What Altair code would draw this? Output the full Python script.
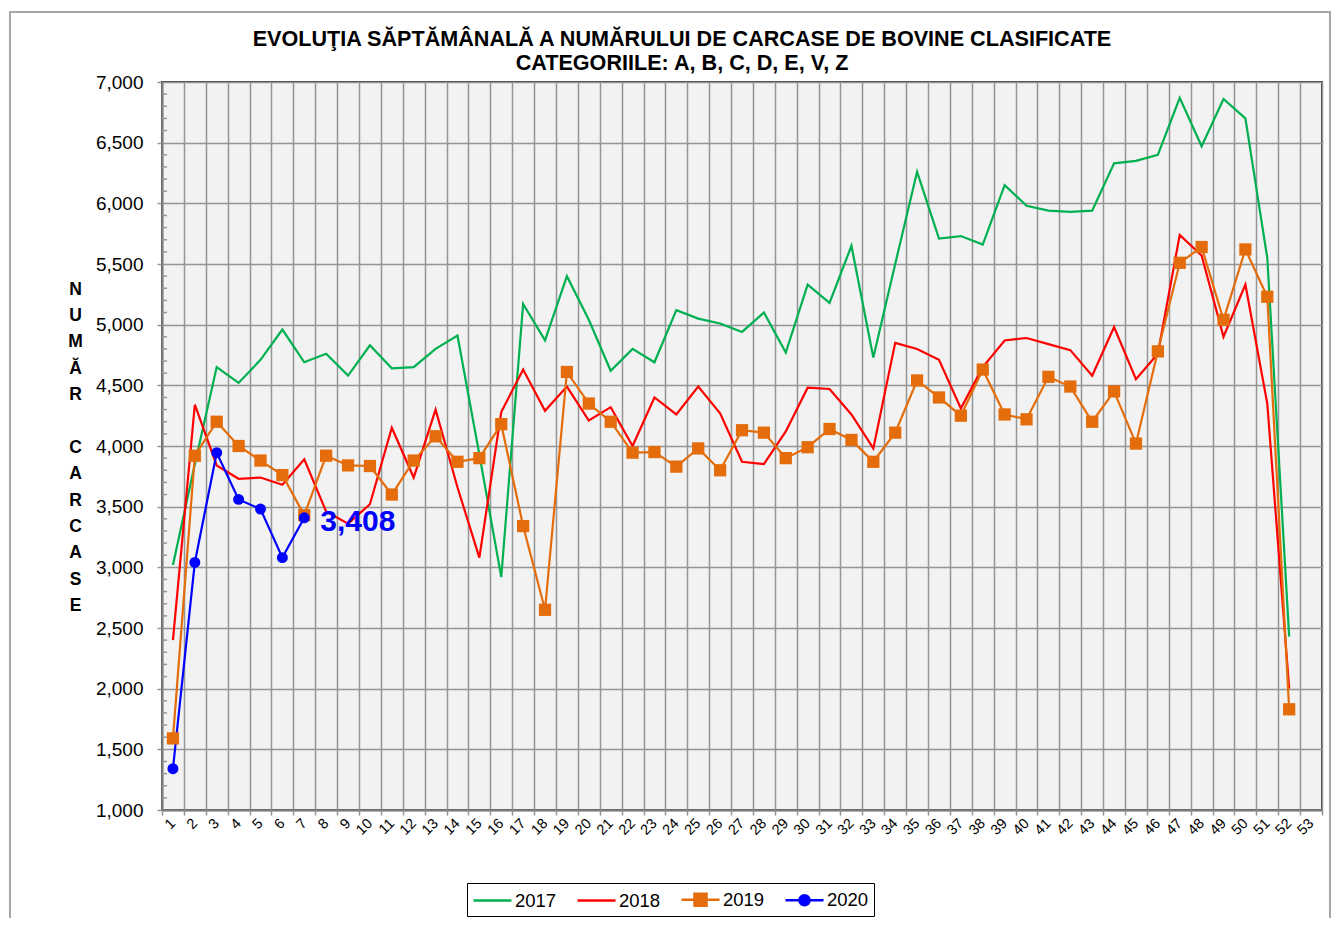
import altair as alt
import pandas as pd

weeks = [str(i) for i in range(1, 54)]
years = ["2017", "2018", "2019", "2020"]
colors = ["#00B050", "#FF0000", "#E46C0A", "#0000FF"]

y2017 = [3020, 3850, 4650, 4520, 4710, 4960, 4690, 4760, 4580, 4830,
         4640, 4650, 4800, 4910, 3930, 2920, 5170, 4870, 5400, 5040,
         4620, 4800, 4690, 5120, 5050, 5010, 4940, 5100, 4770, 5330,
         5180, 5650, 4730, 5500, 6260, 5710, 5730, 5660, 6150, 5980,
         5940, 5930, 5940, 6330, 6350, 6400, 6870, 6470, 6860, 6700,
         5550, 2430]
y2018 = [2400, 4340, 3840, 3730, 3740, 3680, 3890, 3460, 3360, 3520,
         4150, 3740, 4300, 3660, 3080, 4280, 4630, 4290, 4490, 4210,
         4320, 4000, 4400, 4260, 4490, 4270, 3870, 3850, 4120, 4480,
         4470, 4260, 3980, 4850, 4800, 4710, 4310, 4650, 4870, 4890,
         4840, 4790, 4580, 4980, 4550, 4760, 5740, 5570, 4900, 5330,
         4350, 2000]
y2019 = [1590, 3920, 4200, 4000, 3880, 3760, 3430, 3920, 3840, 3835,
         3600, 3880, 4080, 3870, 3900, 4180, 3340, 2650, 4610, 4350,
         4200, 3945, 3950, 3830, 3980, 3800, 4130, 4110, 3900, 3990,
         4140, 4050, 3870, 4110, 4540, 4400, 4250, 4630, 4260, 4220,
         4570, 4490, 4200, 4450, 4020, 4780, 5510, 5640, 5040, 5620,
         5230, 1830]
y2020 = [1340, 3040, 3945, 3560, 3480, 3080, 3408]

y_ticks = list(range(1000, 7001, 500))
minor_ticks = [v for v in range(1000, 7001, 100) if v % 500 != 0]

title_lines = ["EVOLUŢIA SĂPTĂMÂNALĂ A NUMĂRULUI DE CARCASE DE BOVINE  CLASIFICATE",
               "CATEGORIILE: A, B, C, D, E, V, Z"]
y_title = ["N", "U", "M", "Ă", "R", "\u200b", "C", "A", "R", "C", "A", "S", "E"]

# legend glyphs: line only / line + square / line + circle
legend_paths = ["M-1,0H2.8",
                "M-1,0H2.8",
                "M-1,0H2.8M0.3,-0.6H1.5V0.6H0.3Z",
                "M-1,0H2.8M1.4,0A0.5,0.5,0,1,1,0.4,0A0.5,0.5,0,1,1,1.4,0Z"]

rows = []
for yr, vals in zip(years, [y2017, y2018, y2019, y2020]):
    for i, v in enumerate(vals):
        rows.append({"week": weeks[i], "year": yr, "value": v})
df = pd.DataFrame(rows)
minor_df = pd.DataFrame({"value": minor_ticks})

FONT = "Liberation Sans"
GRID = "#959595"

xscale = alt.Scale(type="band", domain=weeks, paddingInner=0, paddingOuter=0)
yscale = alt.Scale(domain=[1000, 7000], nice=False, zero=False)
cscale = alt.Scale(domain=years, range=colors)

x_axis = alt.Axis(title=None, labelAngle=315, labelAlign="right", labelBaseline="middle",
                  labelFontSize=14.5, labelFont=FONT, labelColor="black", labelPadding=6,
                  tickBand="extent", grid=True, gridColor=GRID, gridWidth=1.5,
                  tickSize=5, tickColor=GRID, tickWidth=1.5,
                  domainColor="#808080", domainWidth=2, labelOverlap=False)
y_axis = alt.Axis(values=y_ticks, labelExpr="format(datum.value, ',')", title=y_title,
                  titleAngle=0, titleX=-87, titleY=198, titleAlign="center",
                  titleBaseline="top", titleFontSize=17.5, titleFontWeight="bold",
                  titleFont=FONT, titleLineHeight=26.4, titleColor="black",
                  labelFontSize=19, labelFont=FONT, labelColor="black", labelPadding=14,
                  grid=True, gridColor=GRID, gridWidth=1.5,
                  tickSize=5, tickColor=GRID, tickWidth=1.5,
                  domainColor="#808080", domainWidth=2)

legend = alt.Legend(title=None, orient="none", legendX=305, legendY=801,
                    direction="horizontal", columns=4, symbolSize=400,
                    symbolStrokeWidth=2.5, symbolOpacity=1, labelOffset=20,
                    labelFontSize=18.5, labelFont=FONT, labelColor="black",
                    columnPadding=15, padding=5, strokeColor="black", fillColor="white")

X = alt.X("week:O", sort=weeks, scale=xscale, bandPosition=0.5, axis=x_axis)
Y = alt.Y("value:Q", scale=yscale, axis=y_axis)
C = alt.Color("year:N", scale=cscale, legend=legend)

legend_layer = alt.Chart(df).mark_point(filled=True, size=0, opacity=1, strokeWidth=2.5).encode(
    x=X, y=Y, color=C,
    stroke=alt.Stroke("year:N", scale=cscale, legend=legend),
    shape=alt.Shape("year:N", scale=alt.Scale(domain=years, range=legend_paths), legend=legend),
)

lines = alt.Chart(df).mark_line(strokeWidth=2.2).encode(
    x=X, y=Y, color=C, detail="year:N",
)
squares = alt.Chart(df[df["year"] == "2019"]).mark_square(size=150, opacity=1).encode(
    x=X, y=Y, color=C,
)
circles = alt.Chart(df[df["year"] == "2020"]).mark_circle(size=120, opacity=1).encode(
    x=X, y=Y, color=C,
)
last = df[(df["year"] == "2020") & (df["week"] == "7")]
label = alt.Chart(last).mark_text(align="left", baseline="middle", dx=16, dy=4,
                                  fontSize=30, fontWeight="bold", font=FONT,
                                  color="#0000FF").encode(
    x=X, y=Y, text=alt.Text("value:Q", format=","),
)
minor = alt.Chart(minor_df).mark_rule(color=GRID, strokeWidth=1.5).encode(
    y=Y, x=alt.value(0), x2=alt.value(5),
)
frame = alt.Chart(pd.DataFrame({"a": [0]})).mark_rect(
    fill="transparent", stroke="#A6A6A6", strokeWidth=2).encode(
    x=alt.value(-152), x2=alt.value(1168), y=alt.value(-70), y2=alt.value(900))

chart = alt.layer(frame, minor, legend_layer, lines, squares, circles, label).properties(
    width=1160, height=728,
    title=alt.TitleParams(text=title_lines, fontSize=21.6, fontWeight="bold", font=FONT,
                          color="black", anchor="middle", frame="group", dx=-60,
                          dy=72, offset=8, lineHeight=24),
    autosize=alt.AutoSizeParams(type="none"),
    padding={"left": 154, "top": 74, "right": 10, "bottom": 108},
    background="white",
).configure_view(stroke="#404040", strokeWidth=2, fill="#F2F2F2")

chart.save("out.html", embed_options={"renderer": "svg", "actions": False})
